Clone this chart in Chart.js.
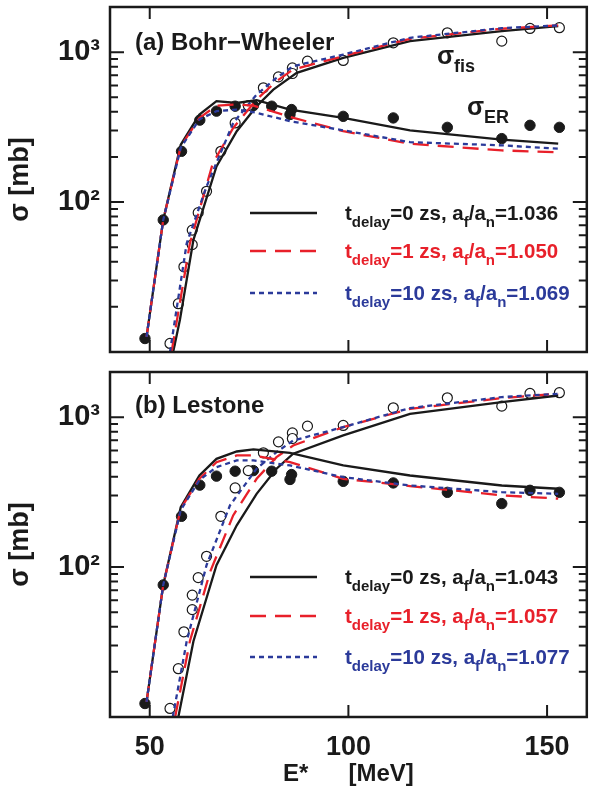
<!DOCTYPE html>
<html>
<head>
<meta charset="utf-8">
<script src="https://cdn.jsdelivr.net/npm/chart.js@4.4.1/dist/chart.umd.min.js"></script>
<style>
  html, body { margin: 0; padding: 0; background: #fff; }
  .wrap { position: absolute; left: 0; width: 593px; }
  #wa { top: 0; height: 365px; }
  #wb { top: 365px; height: 428px; }
</style>
</head>
<body>
<div class="wrap" id="wa"><canvas id="ca"></canvas></div>
<div class="wrap" id="wb"><canvas id="cb"></canvas></div>
<script>
// experimental points (same in both panels)
const erE   = [48.8, 53.4, 58.0, 62.6, 66.8, 71.5, 76.1, 80.7, 85.3, 85.7, 98.7, 111.3, 124.9, 138.6, 145.7, 153.1];
const erSig = [12.3, 76, 218, 352, 404, 436, 440, 436, 384, 414, 373, 364, 315, 265, 325, 315];
const fisE   = [55.1, 57.2, 58.6, 60.7, 60.7, 62.2, 64.3, 67.9, 71.5, 74.8, 78.6, 82.4, 85.9, 85.9, 89.7, 98.7, 111.3, 124.9, 138.6, 145.7, 153.1];
const fisSig = [11.4, 21, 37, 52, 65, 85, 118, 218, 337, 440, 578, 684, 785, 720, 871, 880, 1154, 1346, 1184, 1439, 1455];

// panel (a) Bohr-Wheeler curves
const aErE0 = [49.2, 53.4, 57.8, 62.5, 66.8, 71.9, 76.9, 85.3, 98.7, 115.5, 138.6, 152.8];
const aErS0 = [12.6, 76, 241, 383, 471, 458, 478, 414, 364, 301, 261, 245];
const aErE1 = [49.2, 53.4, 57.8, 62.5, 66.8, 71.9, 76.1, 85.3, 98.7, 115.5, 138.6, 152.8];
const aErS1 = [12.6, 76, 235, 364, 440, 447, 440, 370, 297, 245, 221, 215];
const aErE10 = [49.2, 53.4, 57.8, 62.5, 66.8, 71.9, 76.9, 85.3, 98.7, 115.5, 138.6, 152.8];
const aErS10 = [12.6, 76, 230, 356, 404, 414, 394, 346, 301, 251, 239, 227];
const aFisE0 = [55.9, 57.6, 61.0, 66.8, 71.9, 76.9, 81.1, 87.0, 98.7, 115.5, 138.6, 152.8];
const aFisS0 = [10, 16.4, 56, 173, 297, 436, 562, 728, 916, 1184, 1381, 1493];
const aFisE1 = [55.5, 60.1, 65.9, 71.0, 76.9, 81.9, 86.1, 98.7, 115.5, 138.6, 152.8];
const aFisS1 = [10, 53, 182, 312, 483, 640, 766, 940, 1227, 1432, 1507];
const aFisE10 = [55.1, 59.3, 64.3, 71.0, 76.9, 81.9, 86.1, 98.7, 115.5, 138.6, 152.8];
const aFisS10 = [10, 53, 127, 337, 521, 674, 806, 964, 1247, 1445, 1507];

// panel (b) Lestone curves
const bErE = [49.2, 53.4, 57.8, 62.5, 66.8, 71.9, 76.1, 85.3, 98.7, 115.5, 138.6, 152.8];
const bErS0 = [12.6, 76, 251, 408, 527, 590, 609, 578, 476, 408, 350, 333];
const bErS1 = [12.6, 76, 245, 388, 501, 555, 555, 501, 388, 347, 301, 286];
const bErS10 = [12.6, 76, 240, 380, 464, 514, 514, 476, 398, 350, 316, 308];
const bFisE0 = [57.2, 61.0, 66.8, 71.9, 76.9, 81.9, 86.1, 98.7, 115.5, 138.6, 152.8];
const bFisS0 = [10, 32, 103, 190, 308, 453, 570, 755, 1052, 1259, 1394];
const bFisE1 = [56.4, 60.1, 65.2, 71.0, 76.9, 81.9, 86.1, 98.7, 115.5, 138.6, 152.8];
const bFisS1 = [10, 32, 93, 221, 388, 541, 647, 858, 1136, 1339, 1431];
const bFisE10 = [55.8, 59.3, 64.3, 70.2, 76.9, 81.9, 86.1, 98.7, 115.5, 138.6, 152.8];
const bFisS10 = [10, 32, 103, 258, 453, 585, 698, 858, 1150, 1360, 1431];

const xTicks = [50, 100, 150];
const yTicks = [100, 1000];
const legendA = ['1.036', '1.050', '1.069'];
const legendB = ['1.043', '1.057', '1.077'];
const delays = ['0', '1', '10'];

const BLACK = '#1a1a1a', RED = '#e8202a', BLUE = '#2b3a9a';
const styles = [
  { color: BLACK, dash: [] },
  { color: RED, dash: [16, 9] },
  { color: BLUE, dash: [5, 4] }
];
const FONT = '"Liberation Sans", Arial, sans-serif';

const pts = (xs, ys) => xs.map((x, i) => ({ x, y: ys[i] }));

function lineSet(data, k) {
  return {
    type: 'line', data, borderColor: styles[k].color, borderDash: styles[k].dash,
    borderWidth: 2.3, pointRadius: 0, fill: false, tension: 0
  };
}

function pointSets() {
  return [
    { type: 'scatter', data: pts(fisE, fisSig), pointRadius: 5, pointBackgroundColor: '#fff',
      pointBorderColor: BLACK, pointBorderWidth: 1.2 },
    { type: 'scatter', data: pts(erE, erSig), pointRadius: 5.2, pointBackgroundColor: BLACK,
      pointBorderColor: BLACK, pointBorderWidth: 1 }
  ];
}

function drawRich(ctx, x, y, parts, color, size) {
  ctx.fillStyle = color;
  ctx.textBaseline = 'alphabetic';
  ctx.textAlign = 'left';
  parts.forEach(([t, sub]) => {
    ctx.font = `bold ${sub ? Math.round(size * 0.72) : size}px ${FONT}`;
    ctx.fillText(t, x, y + (sub ? size * 0.32 : 0));
    x += ctx.measureText(t).width;
  });
}

function decorPlugin(title, titleY, legendY, legendVals, withSigma) {
  return {
    id: 'decor',
    afterDraw(chart) {
      const ctx = chart.ctx;
      const { x, y } = chart.scales;
      const a = chart.chartArea;
      ctx.save();
      // inside ticks
      ctx.strokeStyle = BLACK;
      ctx.lineWidth = 2;
      const ys = [];
      for (let d = 10; d <= 1000; d *= 10) for (let m = 1; m <= 9; m++) ys.push(d * m);
      ys.forEach(v => {
        if (v <= 10 || v > 2000) return;
        const py = y.getPixelForValue(v);
        const len = (v === 100 || v === 1000) ? 14 : 8;
        ctx.beginPath();
        ctx.moveTo(a.left, py); ctx.lineTo(a.left + len, py);
        ctx.moveTo(a.right, py); ctx.lineTo(a.right - len, py);
        ctx.stroke();
      });
      xTicks.forEach(v => {
        const px = x.getPixelForValue(v);
        ctx.beginPath();
        ctx.moveTo(px, a.bottom); ctx.lineTo(px, a.bottom - 12);
        ctx.moveTo(px, a.top); ctx.lineTo(px, a.top + 12);
        ctx.stroke();
      });
      // frame
      ctx.lineWidth = 2.5;
      ctx.strokeRect(a.left, a.top, a.right - a.left, a.bottom - a.top);

      ctx.font = `bold 24px ${FONT}`;
      ctx.fillStyle = BLACK;
      ctx.fillText(title, 135, titleY);
      if (withSigma) {
        drawRich(ctx, 437, 64, [['σ', false], ['fis', true]], BLACK, 25);
        drawRich(ctx, 467, 115, [['σ', false], ['ER', true]], BLACK, 25);
      }
      legendVals.forEach((val, k) => {
        const ly = legendY[k];
        ctx.strokeStyle = styles[k].color;
        ctx.setLineDash(styles[k].dash);
        ctx.lineWidth = 2.3;
        ctx.beginPath();
        ctx.moveTo(250, ly); ctx.lineTo(317, ly);
        ctx.stroke();
        ctx.setLineDash([]);
        drawRich(ctx, 345, ly + 7, [
          ['t', false], ['delay', true], [`=${delays[k]} zs, a`, false], ['f', true],
          ['/a', false], ['n', true], [`=${val}`, false]
        ], styles[k].color, 20.5);
      });
      ctx.restore();
    }
  };
}

function makeChart(id, sets, showX, bottomH, plugin) {
  return new Chart(document.getElementById(id), {
    data: { datasets: sets },
    options: {
      responsive: true, maintainAspectRatio: false, animation: false,
      layout: { padding: { left: 0, right: 6, top: 7, bottom: 0 } },
      plugins: { legend: { display: false }, tooltip: { enabled: false } },
      scales: {
        x: {
          type: 'linear', min: 40, max: 160,
          grid: { display: false, drawTicks: false }, border: { display: false },
          afterBuildTicks: s => { s.ticks = xTicks.map(value => ({ value })); },
          afterFit: s => { s.height = bottomH; s.paddingLeft = 0; s.paddingRight = 0; },
          ticks: { display: showX, padding: 14, color: BLACK, font: { family: FONT, size: 27, weight: 'bold' } },
          title: { display: showX, text: 'E*      [MeV]', color: BLACK, padding: { top: 0 },
            font: { family: FONT, size: 24, weight: 'bold' } }
        },
        y: {
          type: 'logarithmic', min: 10, max: 2000,
          grid: { display: false, drawTicks: false }, border: { display: false },
          afterBuildTicks: s => { s.ticks = yTicks.map(value => ({ value })); },
          afterFit: s => { s.width = 110; s.paddingTop = 0; s.paddingBottom = 0; },
          ticks: { padding: 10, color: BLACK, font: { family: FONT, size: 29, weight: 'bold' },
            callback: v => (v === 1000 ? '10³' : v === 100 ? '10²' : '') },
          title: { display: true, text: 'σ [mb]', color: BLACK, padding: { bottom: 0 },
            font: { family: FONT, size: 27, weight: 'bold' } }
        }
      }
    },
    plugins: [plugin]
  });
}

makeChart('ca', [
  lineSet(pts(aErE10, aErS10), 2), lineSet(pts(aErE1, aErS1), 1), lineSet(pts(aErE0, aErS0), 0),
  lineSet(pts(aFisE10, aFisS10), 2), lineSet(pts(aFisE1, aFisS1), 1), lineSet(pts(aFisE0, aFisS0), 0),
  ...pointSets()
], false, 13, decorPlugin('(a) Bohr−Wheeler', 50, [213, 251, 293], legendA, true));

makeChart('cb', [
  lineSet(pts(bErE, bErS10), 2), lineSet(pts(bErE, bErS1), 1), lineSet(pts(bErE, bErS0), 0),
  lineSet(pts(bFisE10, bFisS10), 2), lineSet(pts(bFisE1, bFisS1), 1), lineSet(pts(bFisE0, bFisS0), 0),
  ...pointSets()
], true, 76, decorPlugin('(b) Lestone', 48, [212, 251, 292], legendB, false));
</script>
</body>
</html>
